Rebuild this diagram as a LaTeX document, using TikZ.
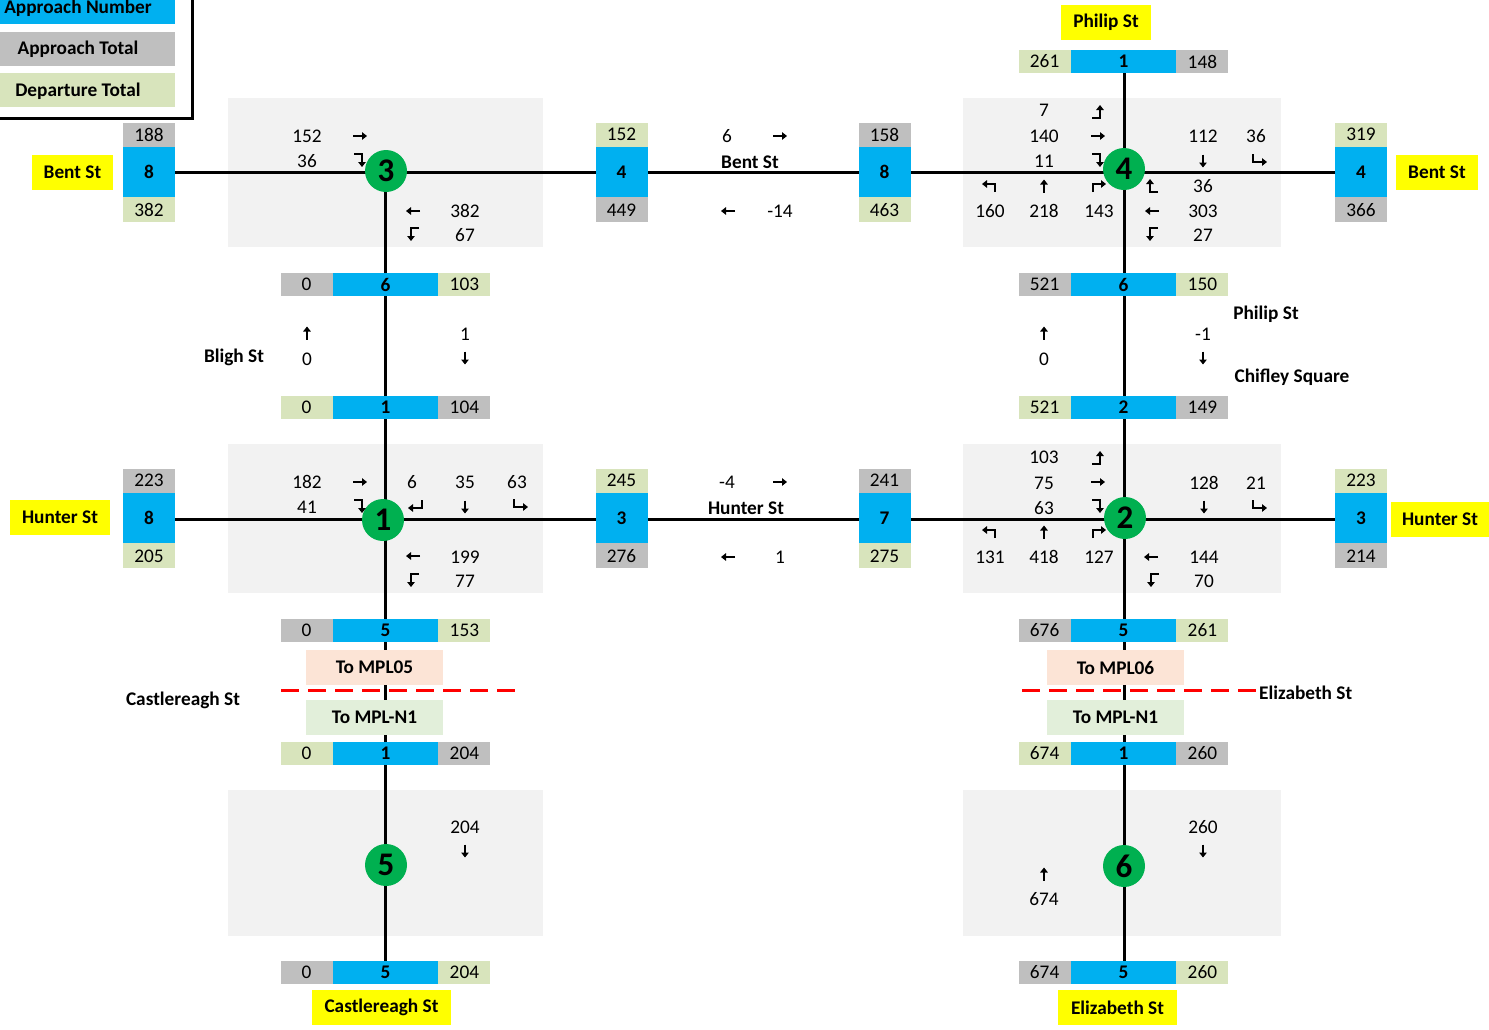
\documentclass[tikz,border=0pt]{standalone}
\usepackage{fontspec}
\setmainfont{Carlito}
\usetikzlibrary{arrows.meta}
\definecolor{cblue}{HTML}{00B0F0}
\definecolor{cgray}{HTML}{BFBFBF}
\definecolor{cgreen}{HTML}{D8E4BC}
\definecolor{cyel}{HTML}{FFFF00}
\definecolor{cbg}{HTML}{F2F2F2}
\definecolor{ccirc}{HTML}{00B050}
\definecolor{csalm}{HTML}{FCE4D6}
\definecolor{cmint}{HTML}{E2EFDA}
\definecolor{cred}{HTML}{FF0000}
\newcommand{\myfs}{\fontsize{19.3}{22}\selectfont}
\newcommand{\mkH}[8]{%
  \node[bcell, minimum width=105pt] (#1) at (#2,#3) {#6};
  \node[cell, fill=#5, anchor=east] (#1-l) at (#1.west) {#4};
  \node[cell, fill=#8, anchor=west] (#1-r) at (#1.east) {#7};}
\newcommand{\mkV}[8]{%
  \node[bcell, minimum height=50pt] (#1) at (#2,#3) {#6};
  \node[cell, fill=#5, anchor=south, minimum height=24pt] (#1-t) at (#1.north) {#4};
  \node[cell, fill=#8, anchor=north, minimum height=25pt] (#1-b) at (#1.south) {#7};}
\begin{document}
\begin{tikzpicture}[x=1pt,y=-1pt,
  txt/.style={inner sep=0pt, font=\myfs},
  btxt/.style={inner sep=0pt, font=\myfs\bfseries},
  cell/.style={inner sep=0pt, minimum width=52pt, minimum height=23pt, font=\myfs},
  bcell/.style={cell, fill=cblue, font=\myfs\bfseries},
  ylab/.style={inner sep=0pt, fill=cyel, minimum height=35pt, font=\myfs\bfseries},
  mpl/.style={inner sep=0pt, minimum width=137pt, minimum height=35pt, font=\myfs\bfseries},
  circ/.style={circle, fill=ccirc, minimum size=42pt, inner sep=0pt, font=\fontsize{33}{33}\selectfont\bfseries},
  road/.style={line width=3pt},
  bgbox/.style={fill=cbg},
  redd/.style={cred, line width=3pt, dash pattern=on 17.5pt off 9.5pt},
  lgbox/.style={inner sep=0pt, minimum width=175pt, minimum height=34pt, anchor=north west},
  ar/.style={line width=2.2pt, -{Triangle[length=5pt,width=7.5pt]}, line join=miter},
  pics/aR/.style={code={\draw[ar] (-7,0) -- (7,0);}},
  pics/aL/.style={code={\draw[ar] (7,0) -- (-7,0);}},
  pics/aU/.style={code={\draw[ar] (0,6.5) -- (0,-6.5);}},
  pics/aD/.style={code={\draw[ar] (0,-6.5) -- (0,6.5);}},
  pics/aRD/.style={code={\draw[ar] (-6,-6) -- (2,-6) -- (2,7);}},
  pics/aLD/.style={code={\draw[ar] (6,-6) -- (-2,-6) -- (-2,7);}},
  pics/aLU/.style={code={\draw[ar] (-6,6) -- (2,6) -- (2,-7);}},
  pics/aRU/.style={code={\draw[ar] (6,6) -- (-2,6) -- (-2,-7);}},
  pics/aUL/.style={code={\draw[ar] (5,6) -- (5,-2) -- (-8,-2);}},
  pics/aUR/.style={code={\draw[ar] (-5,6) -- (-5,-2) -- (8,-2);}},
  pics/aRet/.style={code={\draw[ar] (6,-5) -- (6,3) -- (-8,3);}},
  pics/aDR/.style={code={\draw[ar] (-6,-5) -- (-6,3) -- (8,3);}},
]
\useasboundingbox (0,0) rectangle (1489,1029);
\fill[white] (0,0) rectangle (1489,1029);

% background boxes
\fill[bgbox] (228,98) rectangle (543,247);
\fill[bgbox] (963,98) rectangle (1281,247);
\fill[bgbox] (228,444) rectangle (543,593);
\fill[bgbox] (963,444) rectangle (1281,593);
\fill[bgbox] (228,790) rectangle (543,936);
\fill[bgbox] (963,790) rectangle (1281,936);

% red dashed boundaries
\coordinate (dl1) at (281,690);
\coordinate (dl2) at (520,690);
\coordinate (dr1) at (1022,690);
\coordinate (dr2) at (1260,690);
\draw[redd] (dl1) -- (dl2);
\draw[redd] (dr1) -- (dr2);

% road coordinates
\coordinate (bW) at (149,172);
\coordinate (bE) at (1361,172);
\coordinate (hW) at (149,519);
\coordinate (hE) at (1361,519);
\coordinate (i3) at (385,172);
\coordinate (cS) at (385,972);
\coordinate (pN) at (1124,61);
\coordinate (eS) at (1124,972);
\draw[road] (bW) -- (bE);
\draw[road] (hW) -- (hE);
\draw[road] (i3) -- (cS);
\draw[road] (pN) -- (eS);

% legend
\node[lgbox, fill=cblue] (lgA) at (0,-10) {};
\node[lgbox, fill=cgray] (lgB) at (0,32) {};
\node[lgbox, fill=cgreen] (lgC) at (0,73) {};
\node[btxt] (lgAt) at (78,8) {Approach Number};
\node[btxt] (lgBt) at (78,49) {Approach Total};
\node[btxt] (lgCt) at (78,91) {Departure Total};
\draw[line width=3pt] (-5,118) -- (192,118) -- (192,-5);

% approach bars
\mkV{b3w}{149}{172}{188}{cgray}{8}{382}{cgreen}
\mkV{b3e}{621.5}{172}{152}{cgreen}{4}{449}{cgray}
\mkV{b4w}{884.5}{172}{158}{cgray}{8}{463}{cgreen}
\mkV{b4e}{1361}{172}{319}{cgreen}{4}{366}{cgray}
\mkV{b1w}{149}{518}{223}{cgray}{8}{205}{cgreen}
\mkV{b1e}{621.5}{518}{245}{cgreen}{3}{276}{cgray}
\mkV{b2w}{884.5}{518}{241}{cgray}{7}{275}{cgreen}
\mkV{b2e}{1361}{518}{223}{cgreen}{3}{214}{cgray}
\mkH{b4n}{1123.5}{61.5}{261}{cgreen}{1}{148}{cgray}
\mkH{b3s}{385.5}{284.5}{0}{cgray}{6}{103}{cgreen}
\mkH{b1n}{385.5}{407.5}{0}{cgreen}{1}{104}{cgray}
\mkH{b4s}{1123.5}{284.5}{521}{cgray}{6}{150}{cgreen}
\mkH{b2n}{1123.5}{407.5}{521}{cgreen}{2}{149}{cgray}
\mkH{b1s}{385.5}{630.5}{0}{cgray}{5}{153}{cgreen}
\mkH{b5n}{385.5}{753.5}{0}{cgreen}{1}{204}{cgray}
\mkH{b5s}{385.5}{972.5}{0}{cgray}{5}{204}{cgreen}
\mkH{b2s}{1123.5}{630.5}{676}{cgray}{5}{261}{cgreen}
\mkH{b6n}{1123.5}{753.5}{674}{cgreen}{1}{260}{cgray}
\mkH{b6s}{1123.5}{972.5}{674}{cgray}{5}{260}{cgreen}

% yellow street labels
\node[ylab, minimum width=90pt] (yPhil) at (1106,22.5) {Philip St};
\node[ylab, minimum width=81pt] (yBentW) at (72.5,172.5) {Bent St};
\node[ylab, minimum width=82pt] (yBentE) at (1437,172.5) {Bent St};
\node[ylab, minimum width=100pt] (yHuntW) at (60,517.5) {Hunter St};
\node[ylab, minimum width=98pt] (yHuntE) at (1440,519.5) {Hunter St};
\node[ylab, minimum width=139pt] (yCast) at (381.5,1007.5) {Castlereagh St};
\node[ylab, minimum width=119pt] (yEliz) at (1117.5,1007.5) {Elizabeth St};

% MPL boxes
\node[mpl, fill=csalm] (m05) at (374.5,667.5) {To MPL05};
\node[mpl, fill=cmint] (mN1a) at (374.5,717.5) {To MPL-N1};
\node[mpl, fill=csalm] (m06) at (1115.5,667.5) {To MPL06};
\node[mpl, fill=cmint] (mN1b) at (1115.5,717.5) {To MPL-N1};

% plain street names
\node[btxt] (sBentM) at (750,162) {Bent St};
\node[btxt] (sHuntM) at (746,508) {Hunter St};
\node[btxt] (sBligh) at (234,357) {Bligh St};
\node[btxt] (sPhil) at (1266,314) {Philip St};
\node[btxt] (sChif) at (1292,377) {Chifley Square};
\node[btxt] (sCast) at (183,700) {Castlereagh St};
\node[btxt, anchor=west] (sEliz) at (1259,693) {Elizabeth St};

% intersection circles
\node[circ] (n3) at (386,171) {3};
\node[circ] (n4) at (1124,169) {4};
\node[circ] (n1) at (383,520) {1};
\node[circ] (n2) at (1125,518) {2};
\node[circ] (n5) at (386,865) {5};
\node[circ] (n6) at (1124,866) {6};

% intersection 3
\node[txt] (t3a) at (307,136) {152}; \pic at (360,136) {aR};
\node[txt] (t3b) at (307,161) {36}; \pic at (360,160) {aRD};
\pic at (413,211) {aL}; \node[txt] (t3c) at (465,211) {382};
\pic at (413,234) {aLD}; \node[txt] (t3d) at (465,235) {67};

% between 3 and 4
\node[txt] (t34a) at (727,136) {6}; \pic at (780,136) {aR};
\pic at (728,211) {aL}; \node[txt] (t34b) at (780,211) {-14};

% intersection 4
\node[txt] (t4a) at (1044,110) {7}; \pic at (1098,112) {aLU};
\node[txt] (t4b) at (1044,136) {140}; \pic at (1098,136) {aR};
\node[txt] (t4c) at (1044,161) {11}; \pic at (1098,160) {aRD};
\pic at (990,186) {aUL}; \pic at (1044,186) {aU}; \pic at (1098,186) {aUR};
\node[txt] (t4d) at (990,211) {160};
\node[txt] (t4e) at (1044,211) {218};
\node[txt] (t4f) at (1099,211) {143};
\node[txt] (t4g) at (1203,136) {112}; \node[txt] (t4h) at (1256,136) {36};
\pic at (1203,161) {aD}; \pic at (1259,159) {aDR};
\pic at (1152,186) {aRU}; \node[txt] (t4i) at (1203,186) {36};
\pic at (1152,211) {aL}; \node[txt] (t4j) at (1203,211) {303};
\pic at (1152,234) {aLD}; \node[txt] (t4k) at (1203,235) {27};

% between 3 and 1
\pic at (307,333) {aU}; \node[txt] (t31a) at (307,359) {0};
\node[txt] (t31b) at (465,334) {1}; \pic at (465,358) {aD};

% between 4 and 2
\pic at (1044,333) {aU}; \node[txt] (t42a) at (1044,359) {0};
\node[txt] (t42b) at (1203,334) {-1}; \pic at (1203,358) {aD};

% intersection 1
\node[txt] (t1a) at (307,482) {182}; \pic at (360,482) {aR};
\node[txt] (t1b) at (307,507) {41}; \pic at (360,506) {aRD};
\node[txt] (t1c) at (412,482) {6}; \pic at (416,505) {aRet};
\node[txt] (t1d) at (465,482) {35}; \pic at (465,507) {aD};
\node[txt] (t1e) at (517,482) {63}; \pic at (520,504) {aDR};
\pic at (413,556) {aL}; \node[txt] (t1f) at (465,557) {199};
\pic at (413,580) {aLD}; \node[txt] (t1g) at (465,581) {77};

% between 1 and 2
\node[txt] (t12a) at (727,482) {-4}; \pic at (780,482) {aR};
\pic at (728,557) {aL}; \node[txt] (t12b) at (780,557) {1};

% intersection 2
\node[txt] (t2a) at (1044,457) {103}; \pic at (1098,458) {aLU};
\node[txt] (t2b) at (1044,483) {75}; \pic at (1098,482) {aR};
\node[txt] (t2c) at (1044,508) {63}; \pic at (1098,506) {aRD};
\pic at (990,532) {aUL}; \pic at (1044,532) {aU}; \pic at (1098,532) {aUR};
\node[txt] (t2d) at (990,557) {131};
\node[txt] (t2e) at (1044,557) {418};
\node[txt] (t2f) at (1099,557) {127};
\node[txt] (t2g) at (1204,483) {128}; \node[txt] (t2h) at (1256,483) {21};
\pic at (1204,507) {aD}; \pic at (1259,505) {aDR};
\pic at (1151,557) {aL}; \node[txt] (t2i) at (1204,557) {144};
\pic at (1153,580) {aLD}; \node[txt] (t2j) at (1204,581) {70};

% intersection 5
\node[txt] (t5a) at (465,827) {204}; \pic at (465,851) {aD};

% intersection 6
\node[txt] (t6a) at (1203,827) {260}; \pic at (1203,851) {aD};
\pic at (1044,874) {aU}; \node[txt] (t6b) at (1044,899) {674};
\end{tikzpicture}
\end{document}
